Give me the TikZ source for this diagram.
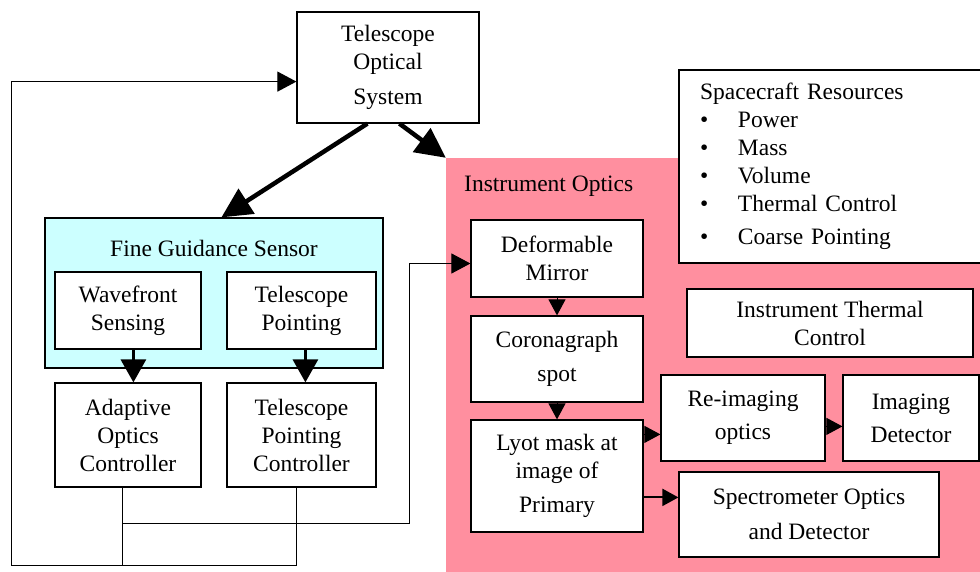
\documentclass[tikz,border=0pt]{standalone}
\usepackage{fontspec}
\setmainfont{Liberation Serif}
\usetikzlibrary{arrows.meta,calc}
\definecolor{iopink}{RGB}{255,143,159}
\definecolor{fgscyan}{RGB}{204,255,255}
\begin{document}
\begin{tikzpicture}[x=1pt,y=-1pt,
  box/.style={draw=black,line width=1.2pt,fill=white,inner sep=0pt,align=center,
    font=\fontsize{23.5}{28}\selectfont},
  lbl/.style={inner sep=0pt,font=\fontsize{23.5}{28}\selectfont},
  conn/.style={draw=black,line width=1pt},
  smallarrow/.style={conn,-{Triangle[length=16pt,width=17pt]}},
  loopin/.style={conn,-{Triangle[length=19pt,width=20pt]}},
  fgsarrow/.style={draw=black,line width=3pt,-{Triangle[length=23pt,width=25pt]}},
  bigarrow/.style={draw=black,line width=4.5pt,-{Triangle[length=30pt,width=29pt]}}]
\useasboundingbox (0,0) rectangle (980,572);
% Instrument optics region
\node[fill=iopink,inner sep=0pt,minimum width=544pt,minimum height=424pt] (io) at (718,370) {};
\node[lbl,anchor=west] (iolabel) at (464,186) {Instrument Optics};
% Telescope optical system
\node[box,minimum width=182pt,minimum height=111pt] (tos) at (388,67.5) {Telescope\\Optical\\[7pt]System};
% Fine guidance sensor
\node[box,fill=fgscyan,minimum width=338pt,minimum height=150pt] (fgs) at (214,293) {};
\node[lbl] (fgslabel) at (214,248) {Fine Guidance Sensor};
\node[box,minimum width=146pt,minimum height=77pt] (wfs) at (128,310.5) {Wavefront\\Sensing};
\node[box,minimum width=149pt,minimum height=77pt] (tp) at (301.5,310.5) {Telescope\\Pointing};
\node[box,minimum width=146pt,minimum height=104pt] (aoc) at (128,435) {Adaptive\\Optics\\Controller};
\node[box,minimum width=149pt,minimum height=104pt] (tpc) at (301.5,435) {Telescope\\Pointing\\Controller};
% Instrument optics boxes
\node[box,minimum width=172pt,minimum height=77pt] (dm) at (557,258.5) {Deformable\\Mirror};
\node[box,minimum width=172pt,minimum height=86pt] (cor) at (557,359) {Coronagraph\\[6pt]spot};
\node[box,minimum width=172pt,minimum height=112pt] (lyot) at (557,476) {Lyot mask at\\image of\\[6pt]Primary};
\node[box,minimum width=164pt,minimum height=86pt] (reim) at (743,418) {Re-imaging\\[5pt]optics};
\node[box,minimum width=136pt,minimum height=86pt] (imd) at (911,418) {Imaging\\[5pt]Detector};
\node[box,minimum width=260pt,minimum height=85pt] (spec) at (809,514.5) {Spectrometer Optics\\[7pt]and Detector};
\node[box,minimum width=286pt,minimum height=68pt] (itc) at (830,323) {Instrument Thermal\\Control};
\node[box,align=left,minimum width=311pt,minimum height=193pt,text width=269pt,inner xsep=21pt] (scr) at (834.5,166.5)
 {Spacecraft Resources\\
  \makebox[38pt][l]{\textbullet}Power\\
  \makebox[38pt][l]{\textbullet}Mass\\
  \makebox[38pt][l]{\textbullet}Volume\\
  \makebox[38pt][l]{\textbullet}Thermal Control\\[5pt]
  \makebox[38pt][l]{\textbullet}Coarse Pointing};
% Thick arrows
\draw[bigarrow] ($(tos.south west)+(71,0)$) -- ($(fgs.north west)+(177,0)$);
\draw[bigarrow] ($(tos.south west)+(103,0)$) -- (io.north west);
% FGS arrows
\draw[fgsarrow] ($(wfs.south west)+(79,0)$) -- ($(aoc.north west)+(79,0)$);
\draw[fgsarrow] ($(tp.south west)+(79,0)$) -- ($(tpc.north west)+(79,0)$);
% Feedback wiring
\coordinate (bl) at (11,565);
\coordinate (jn) at (409,523);
\coordinate (aocx) at ($(aoc.south west)+(68,0)$);
\coordinate (tpcx) at ($(tpc.south west)+(70,0)$);
\draw[conn] (aocx) -- (aocx |- bl);
\draw[loopin] (tpcx) -- (tpcx |- bl) -- (bl) |- ($(tos.south west)+(0,-42)$);
\draw[loopin] (aocx |- jn) -- (jn) |- ($(dm.west)+(0,5)$);
% Optics chain
\draw[smallarrow] (dm.south) -- (cor.north);
\draw[smallarrow] (cor.south) -- (lyot.north);
\draw[smallarrow] ($(lyot.north east)+(0,15)$) -- ($(reim.north west)+(0,60)$);
\draw[smallarrow] ($(reim.north east)+(0,52)$) -- ($(imd.north west)+(0,52)$);
\draw[smallarrow,line width=2pt] ($(lyot.north east)+(0,78)$) -- ($(spec.north west)+(0,26)$);
\end{tikzpicture}
\end{document}
